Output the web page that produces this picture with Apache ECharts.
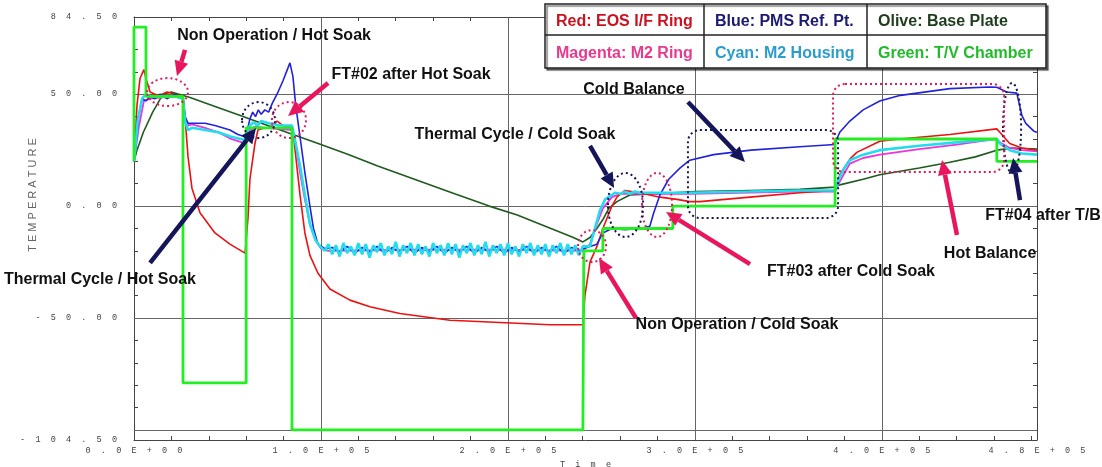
<!DOCTYPE html>
<html>
<head>
<meta charset="utf-8">
<script src="https://cdn.jsdelivr.net/npm/echarts@6/dist/echarts.min.js"></script>
<style>
html, body { margin: 0; padding: 0; background: #fff; }
#main { width: 1102px; height: 467px; }
</style>
</head>
<body>
<div id="main"></div>
<script>
// axis setup
var X_MAX = 483000;
var xLabelVals = [0, 100000, 200000, 300000, 400000, 483000];
var xTickVals = [20000, 40000, 60000, 80000, 100000, 120000, 140000, 160000, 180000, 200000, 220000, 240000,
    260000, 280000, 300000, 320000, 340000, 360000, 380000, 400000, 420000, 440000, 460000, 480000];
var yLabelVals = [84.5, 50, 0, -50, -104.5];
var yTickVals = [-100, -90, -80, -70, -60, -50, -40, -30, -20, -10, 0, 10, 20, 30, 40, 50, 60, 70, 80];
var gridX = [100000, 200000, 300000, 400000];
var gridY = [50, 0, -50, -100];

// series: [time, temperature]
var red = [[0, 20], [1600, 45], [3200, 57], [5300, 61], [6400, 57], [8600, 51], [11200, 50], [14000, 49.5], [17600, 51],
    [21900, 50], [26200, 49], [27300, 40], [28900, 22], [31000, 8], [35300, -3], [43300, -12], [51300, -17], [59400, -21],
    [60000, -21], [61000, -5], [62000, 12], [64700, 28], [66300, 34], [70100, 35], [72700, 35], [76500, 38], [79700, 36],
    [84500, 35], [85500, 30], [88800, 5], [91400, -12], [94100, -22], [98400, -30], [104800, -37], [115500, -42],
    [126200, -45], [142200, -48], [169000, -51], [195700, -52], [222500, -53], [240100, -53], [241200, -40],
    [243900, -25], [247600, -18], [250800, -10], [255600, 0], [258300, 4], [262600, 7], [270600, 6], [281300, 4],
    [290400, 3], [297300, 2], [302700, 2], [329400, 4], [356100, 6], [374900, 7], [375400, 8], [377500, 14],
    [382900, 21], [386600, 24], [398900, 29], [409600, 30], [436400, 32], [461500, 34.5], [463100, 33],
    [468400, 28], [474900, 26], [483000, 25]];

var blue = [[0, 20], [2500, 40], [4300, 48], [6400, 47], [8600, 49], [11200, 48], [14000, 50], [17600, 48], [21900, 50],
    [26200, 48], [27300, 40], [28900, 37], [31000, 37], [38000, 37], [43300, 36], [51300, 34], [55600, 32], [59400, 31],
    [60400, 33], [62000, 39], [63500, 42], [65000, 40], [66500, 43], [68000, 41], [70000, 43], [72000, 42], [74000, 46],
    [76500, 50], [79700, 56], [83400, 64], [85000, 58], [86500, 45], [88800, 31], [91400, 15], [94100, 0], [96000, -10],
    [98400, -17], [102100, -19], [106000, -18.5], [110000, -20.5], [114000, -18], [118000, -21], [122000, -18.5],
    [126000, -20.5], [130000, -18], [134000, -21], [138000, -18.5], [142000, -20.5], [146000, -18], [150000, -21],
    [154000, -18.5], [158000, -20.5], [162000, -18], [166000, -21], [170000, -18.5], [174000, -20.5], [178000, -18],
    [182000, -21], [186000, -18.5], [190000, -20.5], [194000, -18], [198000, -21], [202000, -18.5], [206000, -20.5],
    [210000, -18], [214000, -21], [218000, -18.5], [222000, -20.5], [226000, -18], [230000, -21], [234000, -18.5],
    [238000, -20], [240100, -19], [243900, -18], [247600, -17], [250800, -12], [255600, -10], [262600, -10.5],
    [270600, -10], [275900, -9], [278000, -3], [281300, 5], [286000, 12], [292000, 17], [297300, 20.5], [310000, 23],
    [330000, 25], [356100, 26.5], [374900, 27.5], [375400, 29], [377500, 33], [382900, 38], [390000, 43],
    [398900, 47], [410000, 49.5], [436400, 52.5], [457800, 53.2], [461500, 53.1], [466800, 51], [472200, 50.5],
    [474900, 40.5], [477000, 37], [481300, 33.5], [483000, 33]];

var cyan = [[0, 20], [2000, 38], [4300, 48], [6400, 50], [8600, 49], [14000, 49], [21900, 49], [26200, 48], [27300, 38],
    [28900, 34], [31000, 35], [38000, 34], [45000, 33], [52000, 31], [59400, 29.5], [60400, 33], [62000, 36],
    [64000, 37.5], [66000, 36], [68000, 38], [72000, 37], [78000, 36], [84500, 36], [86000, 30], [88800, 18],
    [91400, 5], [94100, -8], [97000, -15], [99500, -18], [102100, -20],
    [104000, -17], [106000, -21.5], [108000, -17.5], [110000, -22.5], [112000, -16.5], [114000, -21], [116000, -18],
    [118000, -22], [120000, -16.5], [122000, -21.5], [124000, -17], [126000, -23], [128000, -17.5], [130000, -20.5],
    [132000, -16.5], [134000, -22], [136000, -18], [138000, -21.5], [140000, -16], [142000, -22.5], [144000, -17.5],
    [146000, -21], [148000, -16.5], [150000, -22], [152000, -17], [154000, -21.5], [156000, -18], [158000, -22.5],
    [160000, -16.5], [162000, -21], [164000, -17.5], [166000, -22], [168000, -16.5], [170000, -21.5], [172000, -17],
    [174000, -23], [176000, -17.5], [178000, -21], [180000, -16.5], [182000, -22], [184000, -17.5], [186000, -21.5],
    [188000, -16], [190000, -22.5], [192000, -17.5], [194000, -21], [196000, -17], [198000, -22], [200000, -16.5],
    [202000, -21.5], [204000, -18], [206000, -22.5], [208000, -17], [210000, -21], [212000, -16.5], [214000, -22],
    [216000, -17.5], [218000, -21.5], [220000, -17], [222000, -22.5], [224000, -17.5], [226000, -21], [228000, -16.5],
    [230000, -22], [232000, -17], [234000, -21.5], [236000, -17.5], [238000, -22], [240000, -18],
    [243900, -18], [246500, -10], [249200, -2], [252000, 3], [255600, 5], [257200, 6], [260000, 5.5], [262600, 6.5],
    [265000, 5.5], [268000, 6.5], [270600, 6], [281300, 6], [297300, 6], [329400, 6.5], [356100, 7], [374900, 7],
    [375400, 8], [377500, 13], [380000, 17], [382900, 20.5], [390000, 23], [398900, 25], [420000, 27], [440000, 28.5],
    [461500, 30], [463100, 28], [468400, 25], [474900, 23.5], [483000, 23]];

var magenta = [[0, 20], [2500, 35], [5300, 47], [8600, 48], [14000, 48.5], [21900, 49], [26200, 48], [27300, 40],
    [28900, 36], [31000, 36.5], [38000, 35], [45000, 33], [52000, 30], [59400, 28], [60400, 30], [62000, 34],
    [64700, 35.5], [70000, 35], [78000, 34.5], [84500, 34], [86500, 28], [88800, 15], [91400, 3], [94100, -8],
    [97000, -15], [100000, -19], [104000, -20], [150000, -19.5], [200000, -19.5], [240100, -20], [243900, -17],
    [247600, -8], [250800, -1], [255600, 4], [260000, 5.5], [270600, 5.5], [297300, 5.5], [329400, 6], [356100, 6.5],
    [374900, 6.5], [375400, 7.5], [377500, 11], [382900, 19], [390000, 21.5], [398900, 23], [420000, 25.5],
    [440000, 27.5], [461500, 30], [463100, 28.5], [468400, 26], [474900, 25], [483000, 24.5]];

var olive = [[0, 20], [1600, 25], [5000, 33], [10000, 42], [15500, 50], [20000, 51], [24000, 50], [30000, 48.5],
    [40000, 45.5], [55000, 41], [70000, 36.5], [85000, 32], [100000, 27.5], [115000, 23], [130000, 18],
    [150000, 12], [170000, 6], [190000, 0], [205000, -4], [220000, -9], [235000, -14], [240100, -16], [243900, -14],
    [247600, -10], [250800, -6], [254000, -1], [258300, 2], [265200, 5], [280000, 5.5], [300000, 6.5], [330000, 7],
    [356100, 7.5], [374900, 8.5], [377500, 9.5], [390000, 12], [398900, 14], [420000, 17], [436400, 19.6],
    [450000, 22], [461500, 25], [470000, 26], [483000, 25.5]];

var green = [[0, 20], [0, 80], [6400, 80], [6400, 49], [26200, 49], [26200, -79], [60000, -79], [60000, 35],
    [84500, 35], [84500, -100], [240100, -100], [240600, -20], [250800, -20], [250800, -10], [288200, -10],
    [288200, 0], [375000, 0], [375000, 30], [461500, 30], [461500, 20], [483000, 20]];

// legend table
var legendText = [['Red: EOS I/F Ring', 'Blue: PMS Ref. Pt.', 'Olive: Base Plate'],
    ['Magenta: M2 Ring', 'Cyan: M2 Housing', 'Green: T/V Chamber']];
var legendColor = [['#cc121e', '#1b1b72', '#1d3d1d'], ['#e9398f', '#2b9dcc', '#22bb2a']];

// annotations (data coordinates)
var notes = [
    ['Non Operation / Hot Soak', 74900, 76.0],
    ['FT#02 after Hot Soak', 148200, 58.6],
    ['Thermal Cycle / Hot Soak', -18200, -33.0],
    ['Thermal Cycle / Cold Soak', 203800, 31.8],
    ['Cold Balance', 267400, 51.9],
    ['FT#03 after Cold Soak', 383500, -29.4],
    ['Non Operation / Cold Soak', 322500, -53.1],
    ['Hot Balance', 457900, -21.0],
    ['FT#04 after T/B', 486200, -4.4]
];
var pinkArrows = [
    [[27300, 69.8], [23000, 58.1]],
    [[103800, 55.0], [82400, 40.3]],
    [[329500, -25.9], [284600, -2.6]],
    [[268500, -50.0], [248700, -23.2]],
    [[440200, -12.9], [432200, 20.6]]
];
var navyArrows = [
    [[8600, -25.4], [65300, 34.9]],
    [[243900, 26.9], [256800, 8.1]],
    [[296300, 46.5], [326800, 19.7]],
    [[473900, 2.7], [470200, 21.5]]
];
var pinkRings = [
    [7000, 57.2, 28900, 44.7],
    [73800, 46.5, 92000, 30.4],
    [271700, 14.8, 287800, -13.8],
    [237500, -10.7, 252500, -25.0]
];
var navyRings = [
    [57800, 46.5, 75400, 30.4],
    [253500, 14.8, 272300, -13.8],
    [464800, 55.0, 474500, 14.8]
];
var pinkBoxes = [[373900, 54.6, 465400, 15.2]];
var navyBoxes = [[296300, 34.0, 376600, -5.3]];

var PINK = '#e8175d';
var NAVY = '#15155a';

function spaced(s) {
    return s.split('').join('  ');
}
function fmtX(v) {
    if (v === 0) return '0.0E+00';
    var e = Math.floor(Math.log10(v));
    var m = (v / Math.pow(10, e)).toFixed(1);
    return m + 'E+' + (e < 10 ? '0' + e : e);
}
function line(name, data, color, width, z) {
    return {
        name: name, type: 'line', data: data, symbol: 'none', showSymbol: false,
        lineStyle: {color: color, width: width}, itemStyle: {color: color},
        z: z, silent: true, animation: false
    };
}

var chart = echarts.init(document.getElementById('main'));
var labelFont = {fontFamily: 'Liberation Mono', fontSize: 8.5, color: '#444'};

var gridLines = [];
gridY.forEach(function (v) { gridLines.push({yAxis: v}); });
gridX.forEach(function (v) { gridLines.push({xAxis: v}); });

var option = {
    animation: false,
    backgroundColor: '#fff',
    grid: {left: 134, right: 65, top: 17, bottom: 27, containLabel: false, outerBoundsMode: 'none'},
    xAxis: [
        {
            type: 'value', min: 0, max: X_MAX, position: 'bottom',
            axisLine: {show: true, onZero: false, lineStyle: {color: '#444', width: 1}},
            axisTick: {show: true, inside: true, length: 4, customValues: xTickVals, lineStyle: {color: '#444'}},
            splitLine: {show: false},
            axisLabel: {
                customValues: xLabelVals, margin: 6,
                fontFamily: labelFont.fontFamily, fontSize: labelFont.fontSize, color: labelFont.color,
                formatter: function (v) { return spaced(fmtX(v)); }
            },
            name: spaced('Time'), nameLocation: 'middle', nameGap: 17,
            nameTextStyle: {fontFamily: 'Liberation Mono', fontSize: 8.5, color: '#444'}
        },
        {
            type: 'value', min: 0, max: X_MAX, position: 'top',
            axisLine: {show: true, onZero: false, lineStyle: {color: '#444', width: 1}},
            axisTick: {show: true, inside: true, length: 4, customValues: xTickVals, lineStyle: {color: '#444'}},
            splitLine: {show: false}, axisLabel: {show: false}
        }
    ],
    yAxis: [
        {
            type: 'value', min: -104.5, max: 84.5,
            axisLine: {show: true, onZero: false, lineStyle: {color: '#444', width: 1}},
            axisTick: {show: true, inside: true, length: 4, customValues: yTickVals, lineStyle: {color: '#444'}},
            splitLine: {show: false},
            axisLabel: {
                customValues: yLabelVals, margin: 17,
                fontFamily: labelFont.fontFamily, fontSize: labelFont.fontSize, color: labelFont.color,
                formatter: function (v) { return spaced(v.toFixed(2)); }
            }
        },
        {
            type: 'value', min: -104.5, max: 84.5, position: 'right',
            axisLine: {show: true, onZero: false, lineStyle: {color: '#444', width: 1}},
            axisTick: {show: true, inside: true, length: 4, customValues: yTickVals, lineStyle: {color: '#444'}},
            splitLine: {show: false}, axisLabel: {show: false}
        }
    ],
    series: [
        {
            name: 'grid', type: 'line', data: [], silent: true, z: 1,
            markLine: {
                silent: true, symbol: 'none', animation: false, z: 1,
                label: {show: false},
                lineStyle: {color: '#666', type: 'solid', width: 1},
                emphasis: {disabled: true},
                data: gridLines
            }
        },
        line('Olive: Base Plate', olive, '#1d5c1d', 1.6, 3),
        line('Magenta: M2 Ring', magenta, '#ee33dd', 1.8, 4),
        line('Red: EOS I/F Ring', red, '#ee1111', 1.6, 5),
        line('Blue: PMS Ref. Pt.', blue, '#2222dd', 1.6, 6),
        line('Cyan: M2 Housing', cyan, '#22ddee', 2.6, 7),
        line('Green: T/V Chamber', green, '#22ee22', 2.8, 8)
    ]
};
chart.setOption(option);

function px(p) {
    return chart.convertToPixel({xAxisIndex: 0, yAxisIndex: 0}, p);
}
function arrow(a, b, color) {
    var p1 = px(a), p2 = px(b);
    var dx = p2[0] - p1[0], dy = p2[1] - p1[1];
    var len = Math.sqrt(dx * dx + dy * dy);
    var ux = dx / len, uy = dy / len;
    var hl = 15, hw = 7;
    var bx = p2[0] - ux * hl, by = p2[1] - uy * hl;
    return [
        {type: 'line', z: 20, silent: true, shape: {x1: p1[0], y1: p1[1], x2: bx, y2: by},
            style: {stroke: color, lineWidth: 4.5}},
        {type: 'polygon', z: 20, silent: true,
            shape: {points: [[p2[0], p2[1]], [bx - uy * hw, by + ux * hw], [bx + uy * hw, by - ux * hw]]},
            style: {fill: color}}
    ];
}
function ring(r, color) {
    var a = px([r[0], r[1]]), b = px([r[2], r[3]]);
    return {type: 'ellipse', z: 19, silent: true,
        shape: {cx: (a[0] + b[0]) / 2, cy: (a[1] + b[1]) / 2, rx: Math.abs(b[0] - a[0]) / 2, ry: Math.abs(b[1] - a[1]) / 2},
        style: {fill: 'none', stroke: color, lineWidth: 2, lineDash: [2, 3]}};
}
function box(r, color) {
    var a = px([r[0], r[1]]), b = px([r[2], r[3]]);
    return {type: 'rect', z: 19, silent: true,
        shape: {x: a[0], y: a[1], width: b[0] - a[0], height: b[1] - a[1], r: 12},
        style: {fill: 'none', stroke: color, lineWidth: 2, lineDash: [2, 3]}};
}

var g = [];
pinkRings.forEach(function (r) { g.push(ring(r, PINK)); });
navyRings.forEach(function (r) { g.push(ring(r, NAVY)); });
pinkBoxes.forEach(function (r) { g.push(box(r, PINK)); });
navyBoxes.forEach(function (r) { g.push(box(r, NAVY)); });
pinkArrows.forEach(function (a) { g = g.concat(arrow(a[0], a[1], PINK)); });
navyArrows.forEach(function (a) { g = g.concat(arrow(a[0], a[1], NAVY)); });
notes.forEach(function (n) {
    var p = px([n[1], n[2]]);
    g.push({type: 'text', z: 21, silent: true, x: p[0], y: p[1],
        style: {text: n[0], fill: '#111', font: 'bold 16px "Liberation Sans", Arial, sans-serif',
            align: 'center', verticalAlign: 'middle'}});
});

// y axis title
g.push({type: 'text', z: 21, silent: true, x: 33, y: 195, rotation: Math.PI / 2,
    style: {text: 'T E M P E R A T U R E', fill: '#666', font: '11px "Liberation Sans", Arial, sans-serif',
        align: 'center', verticalAlign: 'middle'}});

// legend table
var colX = [545, 704, 867, 1046];
var rowY = [4, 35, 68];
g.push({type: 'rect', z: 30, silent: true,
    shape: {x: colX[0], y: rowY[0], width: colX[3] - colX[0], height: rowY[2] - rowY[0]},
    style: {fill: '#fff', stroke: '#222', lineWidth: 1.5, shadowColor: 'rgba(0,0,0,0.5)', shadowOffsetX: 2, shadowOffsetY: 2, shadowBlur: 1}});
g.push({type: 'line', z: 31, silent: true, shape: {x1: colX[0], y1: rowY[1], x2: colX[3], y2: rowY[1]},
    style: {stroke: '#222', lineWidth: 1.5}});
[colX[1], colX[2]].forEach(function (x) {
    g.push({type: 'line', z: 31, silent: true, shape: {x1: x, y1: rowY[0], x2: x, y2: rowY[2]},
        style: {stroke: '#222', lineWidth: 1.5}});
});
legendText.forEach(function (row, i) {
    row.forEach(function (txt, j) {
        g.push({type: 'text', z: 32, silent: true, x: colX[j] + 11, y: (rowY[i] + rowY[i + 1]) / 2 + 2,
            style: {text: txt, fill: legendColor[i][j], font: 'bold 16px "Liberation Sans", Arial, sans-serif',
                align: 'left', verticalAlign: 'middle'}});
    });
});

chart.setOption({graphic: g});
</script>
</body>
</html>
